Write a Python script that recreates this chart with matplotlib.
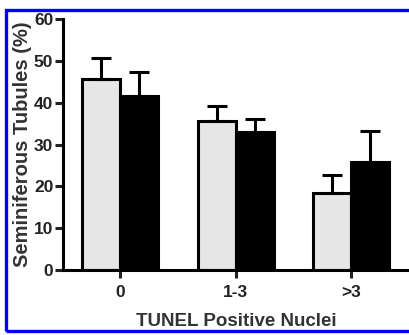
import numpy as np
import matplotlib
matplotlib.use('Agg')
import matplotlib.pyplot as plt
from matplotlib import patches

plt.rcParams['font.family'] = ['Liberation Sans', 'DejaVu Sans']
plt.rcParams['font.weight'] = 'bold'

# --- data ---
categories = ['0', '1-3', '>3']
light_vals = [45.7, 35.7, 18.5]
light_err = [4.9, 3.4, 4.2]
dark_vals = [41.5, 33.1, 25.8]
dark_err = [5.9, 2.9, 7.5]
yticks = [0, 10, 20, 30, 40, 50, 60]

fig = plt.figure(figsize=(4.09, 3.35), dpi=100)
ax = fig.add_axes([0.154, 0.194, 0.846, 0.749])

x = np.arange(len(categories))
w = 0.33
ekw = dict(elinewidth=2.2, capthick=2.2, capsize=7.5, ecolor='black')
ax.bar(x - w / 2, light_vals, w, color='#e6e6e6', edgecolor='black', linewidth=2.2,
       yerr=[np.zeros(3), light_err], error_kw=ekw, zorder=2)
ax.bar(x + w / 2, dark_vals, w, color='black', edgecolor='black', linewidth=2.2,
       yerr=[np.zeros(3), dark_err], error_kw=ekw, zorder=2)

ax.set_xlim(-0.494, 2.5)
ax.set_ylim(0, 60)
ax.set_yticks(yticks)
ax.set_xticks(x)
ax.set_xticklabels(categories)
for s in ['top', 'right']:
    ax.spines[s].set_visible(False)
for s in ['left', 'bottom']:
    ax.spines[s].set_linewidth(2.2)
ax.tick_params(axis='both', width=2.2, length=6, labelsize=12.5, colors='#222222', pad=1)
ax.tick_params(axis='x', pad=5)
ax.set_ylabel('Seminiferous Tubules (%)', fontsize=14.5, fontweight='bold',
              color='#333333', labelpad=1)
ax.set_xlabel('TUNEL Positive Nuclei', fontsize=13.5, fontweight='bold',
              color='#333333', labelpad=9)

# blue frame round the figure
fig.patches.append(patches.Rectangle((6 / 409, 4.5 / 335), 2, 1 - 14 / 335,
                                     transform=fig.transFigure, fill=False,
                                     edgecolor='#0000ff', linewidth=2.4, zorder=10))

fig.savefig('out.png', dpi=100)
